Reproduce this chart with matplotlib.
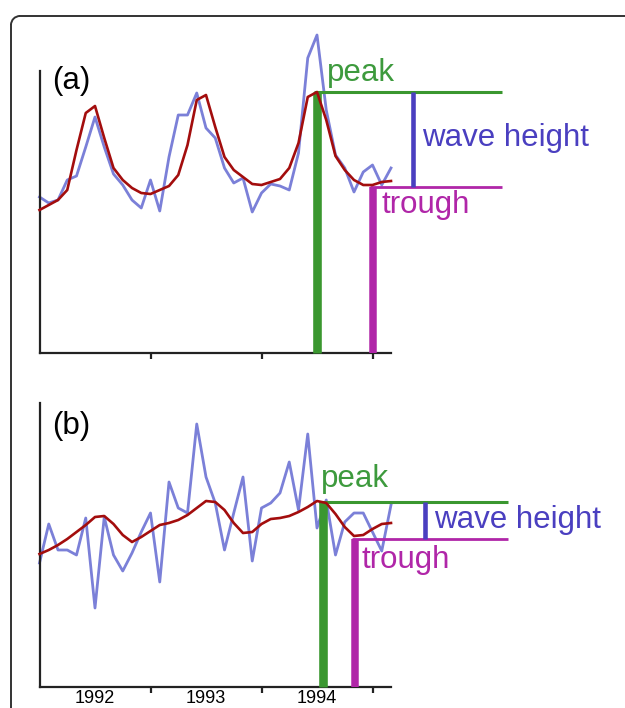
import numpy as np
import matplotlib
matplotlib.use("Agg")
import matplotlib.pyplot as plt
from matplotlib.lines import Line2D
from matplotlib.patches import Arc

plt.rcParams['font.family'] = ['Liberation Sans', 'DejaVu Sans']

# monthly time axis, Jan 1992 .. Mar 1995
months = 1992 + np.arange(39) / 12

# panel (a): strong seasonal signal
raw_a = [156, 150, 153, 173, 177, 206, 236, 206, 179, 168, 153, 145, 173, 142,
         196, 238, 238, 260, 225, 215, 185, 170, 175, 141, 160, 169, 167, 163,
         200, 295, 318, 243, 198, 185, 161, 181, 188, 168, 185]
smooth_a = [143, 148, 153, 163, 203, 240, 247, 215, 185, 173, 165, 160, 159, 163,
            167, 178, 208, 253, 258, 226, 196, 183, 176, 169, 168, 171, 174, 185,
            210, 256, 261, 233, 197, 183, 173, 168, 168, 171, 172]

# panel (b): weak seasonal signal
raw_b = [124, 163, 137, 137, 132, 169, 79, 170, 132, 116, 134, 155, 174, 105,
         205, 179, 174, 263, 210, 184, 137, 174, 210, 126, 179, 184, 194, 225,
         177, 253, 159, 187, 132, 165, 174, 174, 155, 136, 182]
smooth_b = [133, 137, 142, 148, 155, 162, 170, 171, 163, 152, 145, 150, 156, 162,
            164, 167, 172, 179, 186, 185, 177, 164, 154, 155, 163, 168, 169, 171,
            175, 180, 186, 184, 173, 160, 151, 152, 158, 163, 164]

# peak / trough annotation (time, level)
peak_a = (1994.50, 261)
trough_a = (1995.00, 166)
peak_b = (1994.55, 185)
trough_b = (1994.84, 148)

year_labels = ['1992', '1993', '1994']

c_raw = '#7b80d8'
c_smooth = '#a30d0d'
c_peak = '#3a972f'
c_trough = '#b026a8'
c_height = '#4a3fc0'

W = 625.0
H = 708.0
fig = plt.figure(figsize=(W / 100, H / 100), dpi=100)

# frame: left and top edge with a rounded corner (figure fraction coords)
r = 9
fx, fy = 11 / W, (H - 16) / H
fig.add_artist(Line2D([fx, fx], [0, (H - 16 - r) / H], color='#333333', lw=1.4))
fig.add_artist(Line2D([(11 + r) / W, 1.0], [fy, fy], color='#333333', lw=1.4))
fig.add_artist(Arc(((11 + r) / W, (H - 16 - r) / H), 2 * r / W, 2 * r / H,
                   theta1=90, theta2=180, color='#333333', lw=1.4))

x0 = 1992.0
x1 = 1992 + 38 / 12


def px2t(px):
    # horizontal pixel -> time
    return x0 + (px - 39.5) / 9.25 / 12


def panel(rect, raw, smooth, peak, trough, ymax, label, label_y,
          height_px, end_px, peak_txt, trough_txt, height_txt, show_years):
    ax = fig.add_axes(rect)
    ax.set_xlim(x0, x1)
    ax.set_ylim(0, ymax)
    for s in ['top', 'right']:
        ax.spines[s].set_visible(False)
    for s in ['left', 'bottom']:
        ax.spines[s].set_linewidth(1.6)
        ax.spines[s].set_color('#222222')
    ax.set_yticks([])
    ax.set_xticks([1993, 1994, 1995])
    ax.tick_params(axis='x', which='major', direction='out', length=4,
                   width=1.6, color='#222222', labelbottom=False)
    if show_years:
        ax.set_xticks([1992.5, 1993.5, 1994.5], minor=True)
        ax.set_xticklabels(year_labels, minor=True, fontsize=13)
        ax.tick_params(axis='x', which='minor', length=0, pad=2)

    ax.plot(months, raw, color=c_raw, lw=2.0, clip_on=False, zorder=2)

    t_end = px2t(end_px)
    t_h = px2t(height_px)
    # peak
    ax.plot([peak[0], peak[0]], [0, peak[1]], color=c_peak, lw=6.2,
            solid_capstyle='butt', clip_on=False, zorder=3)
    ax.plot([peak[0] - 0.03, t_end], [peak[1], peak[1]], color=c_peak, lw=2.2,
            solid_capstyle='butt', clip_on=False, zorder=3)
    # trough
    ax.plot([trough[0], trough[0]], [0, trough[1]], color=c_trough, lw=5.4,
            solid_capstyle='butt', clip_on=False, zorder=3)
    ax.plot([trough[0] - 0.025, t_end], [trough[1], trough[1]], color=c_trough, lw=2.0,
            solid_capstyle='butt', clip_on=False, zorder=3)
    # wave height
    ax.plot([t_h, t_h], [trough[1], peak[1]], color=c_height, lw=3.3,
            solid_capstyle='butt', clip_on=False, zorder=3)

    ax.plot(months, smooth, color=c_smooth, lw=1.9, clip_on=False, zorder=4)

    fs = 22.5
    ax.text(px2t(peak_txt[0]), peak_txt[1], 'peak', color='#3d9a3d', fontsize=fs,
            ha='left', va='center', clip_on=False)
    ax.text(px2t(trough_txt[0]), trough_txt[1], 'trough', color=c_trough, fontsize=fs,
            ha='left', va='center', clip_on=False)
    ax.text(px2t(height_txt[0]), height_txt[1], 'wave height', color=c_height, fontsize=fs,
            ha='left', va='center', clip_on=False)
    ax.text(px2t(52), label_y, label, color='black', fontsize=fs,
            ha='left', va='center', clip_on=False)
    return ax


# panel (a): baseline y=353 px, spine top y=71 px
panel([39.5 / W, (H - 353) / H, 351.5 / W, (353 - 71) / H],
      raw_a, smooth_a, peak_a, trough_a, 282, '(a)', 272,
      413, 502, (327, 280), (381, 148), (422, 215), False)

# panel (b): baseline y=687 px, spine top y=403 px
panel([39.5 / W, (H - 687) / H, 351.5 / W, (687 - 403) / H],
      raw_b, smooth_b, peak_b, trough_b, 284, '(b)', 261,
      425, 508, (321, 208), (362, 127), (434, 167), True)

fig.savefig('out.png', dpi=100)
